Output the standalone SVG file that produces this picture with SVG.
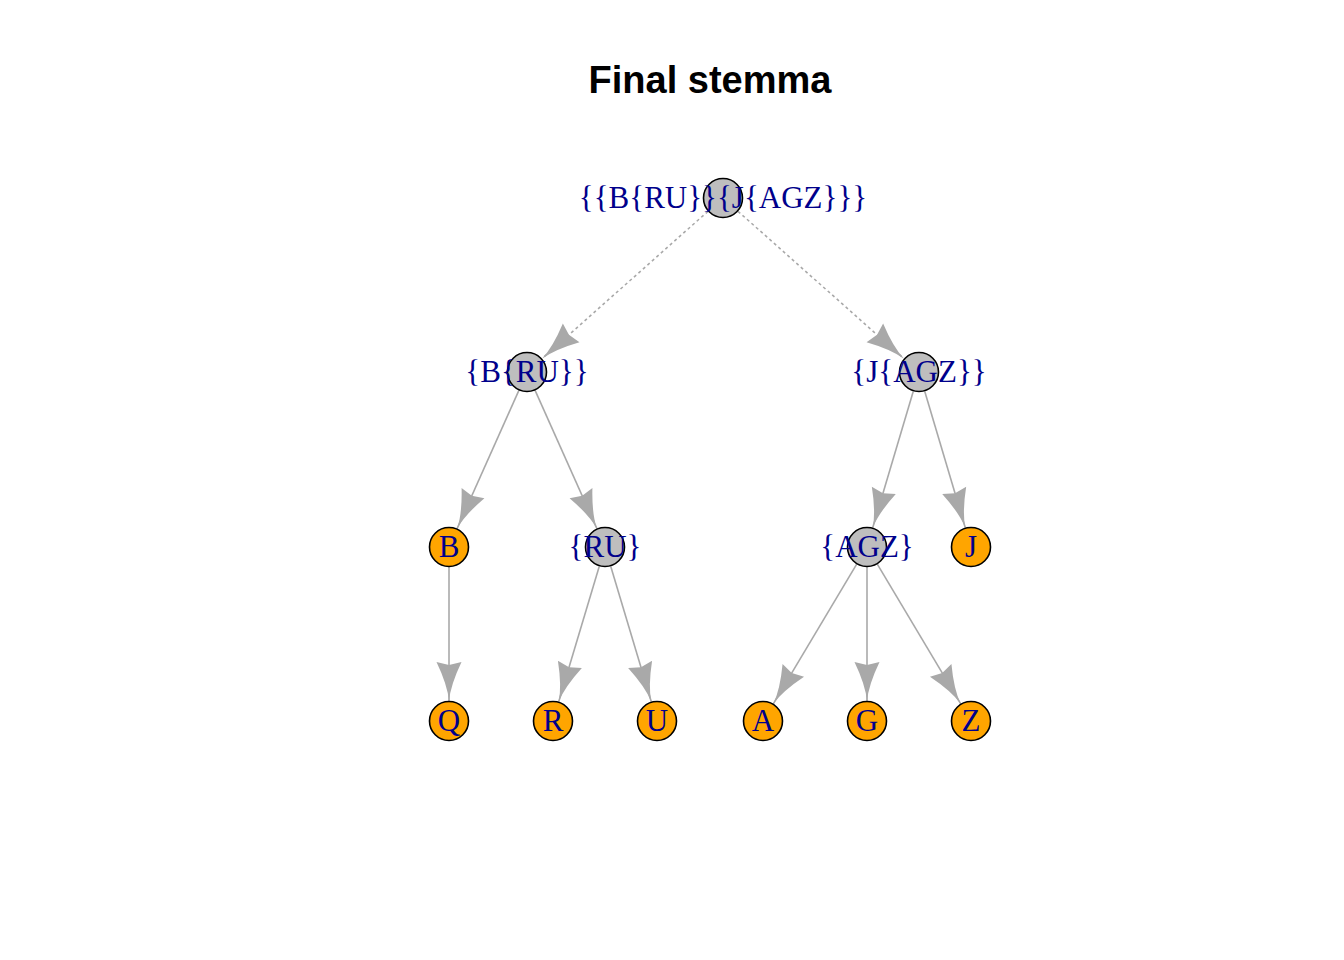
<svg xmlns="http://www.w3.org/2000/svg" width="1344" height="960" viewBox="0 0 1344 960">
<defs>
<style>
.e{stroke:#A9A9A9;stroke-width:1.6;fill:none;marker-end:url(#ah)}
.d{stroke-dasharray:3,3}
.g{fill:#BEBEBE;stroke:#000;stroke-width:1.6}
.o{fill:#FFA500;stroke:#000;stroke-width:1.6}
.t{font-family:"Liberation Serif","Times New Roman",serif;font-size:31px;fill:#00008B;text-anchor:middle}
.title{font-family:"Liberation Sans",Arial,sans-serif;font-size:38px;font-weight:bold;fill:#000;text-anchor:middle}
</style>
<marker id="ah" markerUnits="userSpaceOnUse" viewBox="-42 -15 44 30" refX="0" refY="0" markerWidth="44" markerHeight="30" orient="auto" overflow="visible">
<path d="M0,0 Q-16,-1.5 -39,-12.5 L-36,0 L-39,12.5 Q-16,1.5 0,0 Z" fill="#A9A9A9"/>
</marker>
</defs>
<rect width="1344" height="960" fill="#fff"/>
<text class="title" x="710" y="93">Final stemma</text>
<g id="edges">
<line class="e d" x1="708" y1="211.3" x2="542" y2="358.7"/>
<line class="e d" x1="738" y1="211.3" x2="904" y2="358.7"/>
<line class="e" x1="518.9" y1="390.3" x2="457.1" y2="528.7"/>
<line class="e" x1="535.1" y1="390.3" x2="596.9" y2="528.7"/>
<line class="e" x1="913.3" y1="391.2" x2="872.7" y2="527.8"/>
<line class="e" x1="924.7" y1="391.2" x2="965.3" y2="527.8"/>
<line class="e" x1="449" y1="567" x2="449" y2="701"/>
<line class="e" x1="599.3" y1="566.2" x2="558.7" y2="701.8"/>
<line class="e" x1="610.7" y1="566.2" x2="651.3" y2="701.8"/>
<line class="e" x1="856.7" y1="564.2" x2="773.3" y2="703.8"/>
<line class="e" x1="867" y1="567" x2="867" y2="701"/>
<line class="e" x1="877.3" y1="564.2" x2="960.7" y2="703.8"/>
</g>
<g id="n_root"><circle class="g" cx="723" cy="198" r="19.5"/></g>
<g id="n_BRU"><circle class="g" cx="527" cy="372" r="19.5"/></g>
<g id="n_JAGZ"><circle class="g" cx="919" cy="372" r="19.5"/></g>
<g id="n_B"><circle class="o" cx="449" cy="547" r="19.5"/></g>
<g id="n_RU"><circle class="g" cx="605" cy="547" r="19.5"/></g>
<g id="n_AGZ"><circle class="g" cx="867" cy="547" r="19.5"/></g>
<g id="n_J"><circle class="o" cx="971" cy="547" r="19.5"/></g>
<g id="n_Q"><circle class="o" cx="449" cy="721" r="19.5"/></g>
<g id="n_R"><circle class="o" cx="553" cy="721" r="19.5"/></g>
<g id="n_U"><circle class="o" cx="657" cy="721" r="19.5"/></g>
<g id="n_A"><circle class="o" cx="763" cy="721" r="19.5"/></g>
<g id="n_G"><circle class="o" cx="867" cy="721" r="19.5"/></g>
<g id="n_Z"><circle class="o" cx="971" cy="721" r="19.5"/></g>
<g id="labels">
<text class="t" x="723" y="208">{{B{RU}}{J{AGZ}}}</text>
<text class="t" x="527" y="382">{B{RU}}</text>
<text class="t" x="919" y="382">{J{AGZ}}</text>
<text class="t" x="449" y="557">B</text>
<text class="t" x="605" y="557">{RU}</text>
<text class="t" x="867" y="557">{AGZ}</text>
<text class="t" x="971" y="557">J</text>
<text class="t" x="449" y="731">Q</text>
<text class="t" x="553" y="731">R</text>
<text class="t" x="657" y="731">U</text>
<text class="t" x="763" y="731">A</text>
<text class="t" x="867" y="731">G</text>
<text class="t" x="971" y="731">Z</text>
</g>
</svg>
